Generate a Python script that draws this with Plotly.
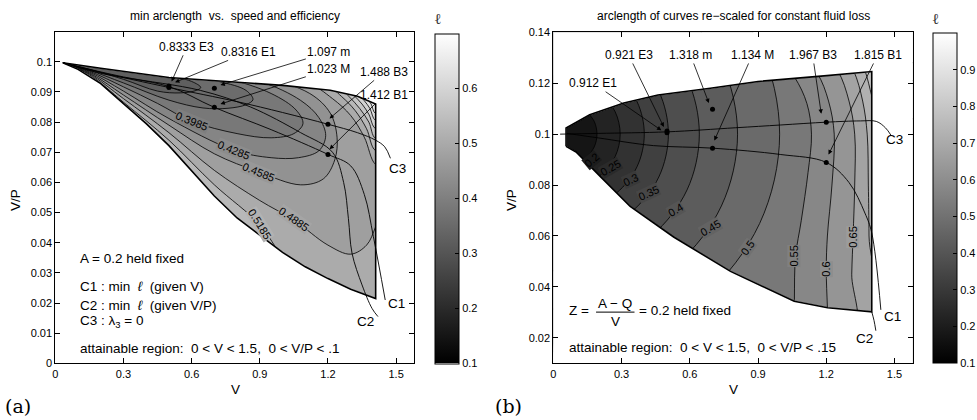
import plotly.graph_objects as go

FONT = "Liberation Sans"

# ======================= panel (a) data =======================
A_UPPER = [(0.033, 0.0997), (0.2, 0.0979), (0.5, 0.0948), (0.77, 0.0934), (1.0, 0.0922),
           (1.21, 0.0906), (1.33, 0.0886), (1.41, 0.0860)]
A_LOWER = [(0.033, 0.0997), (0.1, 0.0975), (0.2, 0.0928), (0.3, 0.0862), (0.4, 0.0795),
           (0.5, 0.0722), (0.6, 0.0640), (0.7, 0.0555), (0.8, 0.0482), (0.9, 0.0425),
           (1.0, 0.0368), (1.1, 0.0320), (1.2, 0.0281), (1.3, 0.0246), (1.41, 0.0215)]

A_LEVELS = [0.3385, 0.3685, 0.3985, 0.4285, 0.4585, 0.4885, 0.5185, 0.5485, 0.5785, 0.6085, 0.6385]
A_T3385 = [(0.033, 0.0997), (0.15, 0.0975), (0.3, 0.0942), (0.45, 0.0903), (0.55, 0.0897),
           (0.62, 0.0905), (0.64, 0.0915), (0.6, 0.0935), (0.45, 0.0962), (0.25, 0.0990)]
A_T3685 = [(0.033, 0.0997), (0.15, 0.0972), (0.3, 0.0930), (0.5, 0.0873), (0.65, 0.0847),
           (0.76, 0.0846), (0.84, 0.0858), (0.87, 0.0875), (0.84, 0.0905), (0.72, 0.0935),
           (0.5, 0.0965), (0.25, 0.0992)]
A_T3985 = [(0.033, 0.0997), (0.15, 0.0969), (0.3, 0.0917), (0.45, 0.0862), (0.6, 0.0803),
           (0.8, 0.0762), (0.95, 0.0748), (1.05, 0.0762), (1.09, 0.0795), (1.06, 0.0840),
           (0.95, 0.0895), (0.75, 0.0945), (0.45, 0.0975), (0.2, 0.0995)]
A_T4285 = [(0.033, 0.0997), (0.15, 0.0966), (0.3, 0.0903), (0.5, 0.0812), (0.785, 0.0707),
           (0.95, 0.0682), (1.07, 0.0682), (1.16, 0.0705), (1.19, 0.0755), (1.16, 0.0815),
           (1.08, 0.0872), (0.9, 0.0935), (0.6, 0.0975), (0.25, 0.0998)]
A_T4585 = [(0.033, 0.0997), (0.15, 0.0963), (0.3, 0.0890), (0.5, 0.0790), (0.7, 0.0695),
           (0.895, 0.0635), (1.08, 0.0592), (1.18, 0.0612), (1.23, 0.0675), (1.24, 0.0750),
           (1.21, 0.0830), (1.12, 0.0895), (0.9, 0.0950), (0.55, 0.0985), (0.25, 0.1000)]
A_T4885 = [(0.033, 0.0997), (0.15, 0.0960), (0.3, 0.0878), (0.5, 0.0765), (0.7, 0.0640),
           (0.9, 0.0540), (1.05, 0.0475), (1.2, 0.0392), (1.30, 0.0362), (1.37, 0.0392),
           (1.41, 0.0453), (1.46, 0.056), (1.46, 0.066), (1.41, 0.0660), (1.36, 0.0750),
           (1.30, 0.0822), (1.22, 0.0878), (1.10, 0.0935), (0.8, 0.0975), (0.4, 0.1002)]
A_T5185 = [(0.033, 0.0997), (0.15, 0.0957), (0.3, 0.0866), (0.5, 0.0740), (0.7, 0.0592),
           (0.9, 0.0460), (0.97, 0.0385), (1.05, 0.030), (1.3, 0.012), (1.5, 0.012),
           (1.5, 0.0705), (1.41, 0.0705), (1.37, 0.0778), (1.32, 0.0838), (1.26, 0.0885),
           (1.18, 0.0930), (0.8, 0.0985), (0.4, 0.1005)]
A_T5485 = [(0.033, 0.0997), (0.15, 0.094), (0.3, 0.084), (0.6, 0.060), (1.0, 0.030),
           (1.3, 0.012), (1.5, 0.012), (1.5, 0.0745), (1.41, 0.0745), (1.38, 0.0800),
           (1.34, 0.0845), (1.29, 0.0887), (1.22, 0.0935), (0.9, 0.0985), (0.4, 0.1008)]
A_T5785 = [(0.033, 0.0997), (0.15, 0.094), (0.3, 0.084), (0.6, 0.060), (1.0, 0.030),
           (1.3, 0.012), (1.5, 0.012), (1.5, 0.0778), (1.41, 0.0778), (1.38, 0.0826),
           (1.35, 0.0860), (1.31, 0.0892), (1.26, 0.0930), (0.9, 0.0988), (0.4, 0.1010)]
A_T6085 = [(0.033, 0.0997), (0.15, 0.094), (0.3, 0.084), (0.6, 0.060), (1.0, 0.030),
           (1.3, 0.012), (1.5, 0.012), (1.5, 0.0805), (1.41, 0.0805), (1.385, 0.0845),
           (1.36, 0.0871), (1.33, 0.0897), (1.29, 0.0930), (0.9, 0.0990), (0.4, 0.1012)]
A_T6385 = [(0.033, 0.0997), (0.15, 0.094), (0.3, 0.084), (0.6, 0.060), (1.0, 0.030),
           (1.3, 0.012), (1.5, 0.012), (1.5, 0.0828), (1.41, 0.0828), (1.39, 0.0860),
           (1.37, 0.0881), (1.345, 0.0903), (1.31, 0.0932), (0.9, 0.0992), (0.4, 0.1014)]
A_TONGUES = [A_T3385, A_T3685, A_T3985, A_T4285, A_T4585, A_T4885, A_T5185,
             A_T5485, A_T5785, A_T6085, A_T6385]

A_C1 = [(0.033, 0.0997), (0.2, 0.0962), (0.5, 0.0918), (0.7, 0.0849), (0.95, 0.0775),
        (1.2, 0.0693), (1.3, 0.0655), (1.36, 0.056), (1.40, 0.042), (1.452, 0.021)]
A_C2 = [(0.033, 0.0997), (0.3, 0.0950), (0.64, 0.0905), (0.86, 0.0850), (1.08, 0.0765),
        (1.22, 0.0700), (1.269, 0.0600), (1.29, 0.048), (1.306, 0.0365), (1.35, 0.026),
        (1.394, 0.0182), (1.42, 0.0155)]
A_C3 = [(0.033, 0.0997), (0.2, 0.0965), (0.5, 0.0915), (0.8, 0.0868), (1.0, 0.0832),
        (1.2, 0.0793), (1.33, 0.0765), (1.41, 0.0740), (1.45, 0.0718), (1.475, 0.068)]

A_PT_V = [0.5, 0.5, 0.7, 0.7, 1.2, 1.2]
A_PT_P = [0.0915, 0.0920, 0.0912, 0.0849, 0.0793, 0.0693]
A_CALLOUT_TEXT = ["0.8333 E3", "0.8316 E1", "1.097 m", "1.023 M", "1.488 B3", "1.412 B1"]
A_CALLOUT_TV = [0.579, 0.851, 1.204, 1.204, 1.447, 1.447]
A_CALLOUT_TP = [0.1050, 0.1033, 0.1033, 0.0975, 0.0967, 0.0890]
A_CALLOUT_HV = [0.512, 0.527, 0.727, 0.727, 1.207, 1.207]
A_CALLOUT_HP = [0.0935, 0.0932, 0.0923, 0.0860, 0.0812, 0.0710]

A_CLABEL_TEXT = ["0.3985", "0.4285", "0.4585", "0.4885", "0.5185"]
A_CLABEL_LEV = [0.3985, 0.4285, 0.4585, 0.4885, 0.5185]
A_CLABEL_V = [0.60, 0.785, 0.895, 1.05, 0.90]
A_CLABEL_P = [0.0803, 0.0708, 0.0636, 0.0478, 0.0462]
A_CLABEL_ANG = [22, 22, 22, 35, 58]

# ======================= panel (b) data =======================
B_UPPER = [(0.056, 0.1024), (0.16, 0.1076), (0.31, 0.1122), (0.46, 0.1154), (0.69, 0.1180),
           (0.90, 0.1207), (1.19, 0.1229), (1.40, 0.1246)]
B_LOWER = [(0.056, 0.0952), (0.10, 0.0930), (0.206, 0.0834), (0.338, 0.0716), (0.529, 0.0596),
           (0.779, 0.0461), (1.059, 0.0344), (1.206, 0.0318), (1.40, 0.0302)]

B_LEVELS = [0.2, 0.25, 0.3, 0.35, 0.4, 0.45, 0.5, 0.55, 0.6, 0.65, 0.7, 0.75, 0.8, 0.85]
B_A20 = [(0.145, 0.109), (0.180, 0.105), (0.192, 0.1), (0.180, 0.095), (0.145, 0.091), (0.094, 0.0886)]
B_A25 = [(0.210, 0.1159), (0.272, 0.1088), (0.294, 0.1), (0.272, 0.0912), (0.210, 0.0841), (0.121, 0.0799)]
B_A30 = [(0.278, 0.1231), (0.368, 0.1128), (0.400, 0.1), (0.368, 0.0872), (0.278, 0.0769), (0.148, 0.0708)]
B_A35 = [(0.346, 0.1303), (0.464, 0.1168), (0.506, 0.1), (0.464, 0.0832), (0.346, 0.0697), (0.175, 0.0617)]
B_A40 = [(0.434, 0.1397), (0.588, 0.1219), (0.642, 0.1), (0.588, 0.0781), (0.434, 0.0603), (0.211, 0.050)]
B_A45 = [(0.542, 0.1511), (0.739, 0.1282), (0.810, 0.1), (0.739, 0.0718), (0.542, 0.0489), (0.254, 0.0356)]
B_A50 = [(0.661, 0.1637), (0.907, 0.1351), (0.995, 0.1), (0.907, 0.0649), (0.661, 0.0363), (0.302, 0.0197)]
B_A55 = [(0.95, 0.135), (1.06, 0.1225), (1.115, 0.112), (1.135, 0.1), (1.12, 0.085), (1.09, 0.066),
         (1.065, 0.052), (1.06, 0.035), (1.06, 0.02)]
B_A60 = [(1.05, 0.135), (1.16, 0.124), (1.21, 0.113), (1.235, 0.1), (1.225, 0.08), (1.205, 0.06),
         (1.20, 0.047), (1.205, 0.032), (1.21, 0.02)]
B_A65 = [(1.15, 0.135), (1.25, 0.125), (1.30, 0.113), (1.325, 0.1), (1.325, 0.08), (1.318, 0.06),
         (1.312, 0.045), (1.31, 0.02)]
B_A70 = [(1.25, 0.135), (1.32, 0.125), (1.36, 0.113), (1.38, 0.1), (1.385, 0.08), (1.388, 0.06), (1.39, 0.02)]
B_A75 = [(1.32, 0.135), (1.37, 0.125), (1.40, 0.115), (1.43, 0.105)]
B_A80 = [(1.36, 0.135), (1.39, 0.128), (1.43, 0.120)]
B_A85 = [(1.39, 0.135), (1.43, 0.127)]
B_ARCS = [B_A20, B_A25, B_A30, B_A35, B_A40, B_A45, B_A50, B_A55, B_A60, B_A65, B_A70, B_A75, B_A80, B_A85]

B_C1 = [(0.06, 0.1003), (0.2, 0.0985), (0.44, 0.0955), (0.7, 0.0945), (1.0, 0.0920), (1.2, 0.0889),
        (1.3, 0.0810), (1.37, 0.0690), (1.40, 0.0612), (1.44, 0.031)]
# C2 runs along the lower boundary; only its leader beyond the corner is drawn separately
B_C2 = [(1.40, 0.0302), (1.41, 0.0268), (1.418, 0.0228)]
B_C3 = [(0.03, 0.1), (0.2, 0.1003), (0.5, 0.1009), (0.8, 0.1025), (1.0, 0.1036), (1.2, 0.1047),
        (1.35, 0.1052), (1.42, 0.1050), (1.46, 0.1025), (1.485, 0.0995)]

B_PT_V = [0.5, 0.5, 0.7, 0.7, 1.2, 1.2]
B_PT_P = [0.1005, 0.1012, 0.1098, 0.0945, 0.1047, 0.0889]
B_CALLOUT_TEXT = ["0.921 E3", "0.912 E1", "1.318 m", "1.134 M", "1.967 B3", "1.815 B1"]
B_CALLOUT_TV = [0.331, 0.176, 0.603, 0.875, 1.14, 1.426]
B_CALLOUT_TP = [0.1311, 0.1200, 0.1311, 0.1311, 0.1311, 0.1311]
B_CALLOUT_HV = [0.486, 0.475, 0.684, 0.708, 1.178, 1.21]
B_CALLOUT_HP = [0.1028, 0.1015, 0.1122, 0.0975, 0.1080, 0.0920]

B_CLABEL_TEXT = ["0.2", "0.25", "0.3", "0.35", "0.4", "0.45", "0.5", "0.55", "0.6", "0.65"]
B_CLABEL_LEV = [0.2, 0.25, 0.3, 0.35, 0.4, 0.45, 0.5, 0.55, 0.6, 0.65]
B_CLABEL_V = [0.169, 0.25, 0.338, 0.419, 0.537, 0.691, 0.853, 1.059, 1.199, 1.316]
B_CLABEL_P = [0.0899, 0.0867, 0.0821, 0.0769, 0.0703, 0.0631, 0.0553, 0.052, 0.0468, 0.0596]
B_CLABEL_ANG = [-40, -30, -25, -25, -30, -30, -55, -90, -90, -90]

A_CMIN, A_CMAX = 0.1, 0.7
B_CMIN, B_CMAX = 0.1, 1.0
A_CB_TICKS = [0.1, 0.2, 0.3, 0.4, 0.5, 0.6]
B_CB_TICKS = [0.1, 0.2, 0.3, 0.4, 0.5, 0.6, 0.7, 0.8, 0.9]


# ======================= helpers =======================
def gray(val, lo, hi):
    g = max(0.0, min(1.0, (val - lo) / (hi - lo)))
    v = int(round(255 * g))
    return f"rgb({v},{v},{v})"


def xs(pts):
    return [p[0] for p in pts]


def ys(pts):
    return [p[1] for p in pts]


GRAYSCALE = [[0, "black"], [1, "white"]]
fig = go.Figure()


def colorbar(x_px, top_px, bottom_px, ticks):
    title_h = 21
    box_top = top_px - title_h
    return dict(x=x_px / 977, xanchor="left", y=1 - (box_top + bottom_px) / 2 / 420, yanchor="middle",
                len=bottom_px - box_top, lenmode="pixels", thickness=24, thicknessmode="pixels",
                xpad=0, ypad=0, outlinewidth=1, outlinecolor="black",
                ticks="inside", ticklen=4, tickcolor="black",
                tickvals=ticks, ticktext=[f"{t:g}" for t in ticks],
                tickfont=dict(family=FONT, size=11, color="black"),
                title=dict(text="ℓ", side="top", font=dict(family="DejaVu Serif", size=15, color="#333")))


# ---------------- panel (a) ----------------
a_region = A_LOWER + [A_UPPER[-1]] + A_UPPER[::-1][1:]
fig.add_trace(go.Scatter(x=[-0.1, 1.7, 1.7, -0.1], y=[-0.01, -0.01, 0.12, 0.12], fill="toself",
                         fillcolor=gray(A_LEVELS[-1] + 0.015, A_CMIN, A_CMAX), mode="none",
                         xaxis="x", yaxis="y", hoverinfo="skip", showlegend=False))
step_a = 0.03
for lev, pts in sorted(zip(A_LEVELS, A_TONGUES), key=lambda t: -t[0]):
    fig.add_trace(go.Scatter(x=xs(pts), y=ys(pts), fill="toself",
                             fillcolor=gray(lev - step_a / 2, A_CMIN, A_CMAX), mode="lines",
                             line=dict(color="black", width=0.8, shape="spline", smoothing=1),
                             xaxis="x", yaxis="y", hoverinfo="skip", showlegend=False))
mask_a = [(0, 0), (0, 0.11), (1.58, 0.11), (1.58, 0), (0, 0)] + a_region + [a_region[0], (0, 0)]
fig.add_trace(go.Scatter(x=xs(mask_a), y=ys(mask_a), fill="toself", fillcolor="white", mode="lines",
                         line=dict(color="white", width=1), xaxis="x", yaxis="y",
                         hoverinfo="skip", showlegend=False))
fig.add_trace(go.Scatter(x=xs(a_region + [a_region[0]]), y=ys(a_region + [a_region[0]]), mode="lines",
                         line=dict(color="black", width=1.6), xaxis="x", yaxis="y",
                         hoverinfo="skip", showlegend=False))
for c in (A_C1, A_C2, A_C3):
    fig.add_trace(go.Scatter(x=xs(c), y=ys(c), mode="lines",
                             line=dict(color="black", width=0.9, shape="spline", smoothing=1),
                             xaxis="x", yaxis="y", hoverinfo="skip", showlegend=False))
fig.add_trace(go.Scatter(x=A_PT_V, y=A_PT_P, mode="markers", marker=dict(color="black", size=5),
                         xaxis="x", yaxis="y", hoverinfo="skip", showlegend=False))
fig.add_trace(go.Heatmap(z=[[A_CMIN, A_CMAX]], x=[5, 6], y=[5], xaxis="x", yaxis="y",
                         colorscale=GRAYSCALE, zmin=A_CMIN, zmax=A_CMAX, hoverinfo="skip",
                         colorbar=colorbar(435, 31.7, 363.3, A_CB_TICKS)))

# ---------------- panel (b) ----------------
b_region = B_LOWER + B_UPPER[::-1]
fig.add_trace(go.Scatter(x=[-0.1, 1.7, 1.7, -0.1], y=[0.0, 0.0, 0.15, 0.15], fill="toself",
                         fillcolor=gray(B_LEVELS[-1] + 0.025, B_CMIN, B_CMAX), mode="none",
                         xaxis="x2", yaxis="y2", hoverinfo="skip", showlegend=False))
for lev, pts in sorted(zip(B_LEVELS, B_ARCS), key=lambda t: -t[0]):
    first, last = pts[0], pts[-1]
    if last[0] > 1.405:
        poly = pts + [(1.6, last[1]), (1.6, 0.0), (-0.2, 0.0), (-0.2, first[1])]
    else:
        poly = pts + [(-0.2, last[1]), (-0.2, first[1])]
    fig.add_trace(go.Scatter(x=xs(poly), y=ys(poly), fill="toself",
                             fillcolor=gray(lev - 0.025, B_CMIN, B_CMAX), mode="lines",
                             line=dict(color="black", width=0.8, shape="spline", smoothing=1),
                             xaxis="x2", yaxis="y2", hoverinfo="skip", showlegend=False))
mask_b = [(0, 0.01), (0, 0.14), (1.58, 0.14), (1.58, 0.01), (0, 0.01)] + b_region + [b_region[0], (0, 0.01)]
fig.add_trace(go.Scatter(x=xs(mask_b), y=ys(mask_b), fill="toself", fillcolor="white", mode="lines",
                         line=dict(color="white", width=1), xaxis="x2", yaxis="y2",
                         hoverinfo="skip", showlegend=False))
fig.add_trace(go.Scatter(x=xs(b_region + [b_region[0]]), y=ys(b_region + [b_region[0]]), mode="lines",
                         line=dict(color="black", width=1.6), xaxis="x2", yaxis="y2",
                         hoverinfo="skip", showlegend=False))
for c in (B_C1, B_C2, B_C3):
    fig.add_trace(go.Scatter(x=xs(c), y=ys(c), mode="lines",
                             line=dict(color="black", width=0.9, shape="spline", smoothing=1),
                             xaxis="x2", yaxis="y2", hoverinfo="skip", showlegend=False))
fig.add_trace(go.Scatter(x=B_PT_V, y=B_PT_P, mode="markers", marker=dict(color="black", size=5),
                         xaxis="x2", yaxis="y2", hoverinfo="skip", showlegend=False))
fig.add_trace(go.Heatmap(z=[[B_CMIN, B_CMAX]], x=[5, 6], y=[5], xaxis="x2", yaxis="y2",
                         colorscale=GRAYSCALE, zmin=B_CMIN, zmax=B_CMAX, hoverinfo="skip",
                         colorbar=colorbar(932.7, 31, 363, B_CB_TICKS)))

# ---------------- annotations ----------------
ann = []
txt_font = dict(family=FONT, size=12, color="black")
big_font = dict(family=FONT, size=13.5, color="black")


def callouts(texts, tv, tp, hv, hp, xr, yr):
    for t, a, b, c, d in zip(texts, tv, tp, hv, hp):
        ann.append(dict(text=t, x=c, y=d, ax=a, ay=b, xref=xr, yref=yr, axref=xr, ayref=yr,
                        showarrow=True, arrowhead=2, arrowsize=1.1, arrowwidth=0.8, arrowcolor="black",
                        font=txt_font, standoff=0))


callouts(A_CALLOUT_TEXT, A_CALLOUT_TV, A_CALLOUT_TP, A_CALLOUT_HV, A_CALLOUT_HP, "x", "y")
callouts(B_CALLOUT_TEXT, B_CALLOUT_TV, B_CALLOUT_TP, B_CALLOUT_HV, B_CALLOUT_HP, "x2", "y2")

for t, lev, v, p, ang in zip(A_CLABEL_TEXT, A_CLABEL_LEV, A_CLABEL_V, A_CLABEL_P, A_CLABEL_ANG):
    ann.append(dict(text=t, x=v, y=p, xref="x", yref="y", showarrow=False, textangle=ang,
                    xanchor="center", yanchor="middle", bgcolor=gray(lev, A_CMIN, A_CMAX),
                    font=dict(family=FONT, size=11, color="black"), borderpad=0))
for t, lev, v, p, ang in zip(B_CLABEL_TEXT, B_CLABEL_LEV, B_CLABEL_V, B_CLABEL_P, B_CLABEL_ANG):
    ann.append(dict(text=t, x=v, y=p, xref="x2", yref="y2", showarrow=False, textangle=ang,
                    xanchor="center", yanchor="middle", bgcolor=gray(lev, B_CMIN, B_CMAX),
                    font=dict(family=FONT, size=11, color="black"), borderpad=0))

for t, v, p in [("C3", 1.506, 0.0646), ("C1", 1.50, 0.0199), ("C2", 1.366, 0.0138)]:
    ann.append(dict(text=t, x=v, y=p, xref="x", yref="y", showarrow=False, font=big_font))
for t, v, p in [("C3", 1.50, 0.0978), ("C1", 1.49, 0.0285), ("C2", 1.368, 0.0196)]:
    ann.append(dict(text=t, x=v, y=p, xref="x2", yref="y2", showarrow=False, font=big_font))

for t, p in [("A = 0.2 held fixed", 0.0348),
             ("C1 : min  <i>ℓ</i>  (given V)", 0.0254),
             ("C2 : min  <i>ℓ</i>  (given V/P)", 0.0193),
             ("C3 : λ<sub>3</sub> = 0", 0.0138),
             ("attainable region:  0 &lt; V &lt; 1.5,  0 &lt; V/P &lt; .1", 0.0050)]:
    ann.append(dict(text=t, x=0.101, y=p, xref="x", yref="y", xanchor="left", showarrow=False,
                    font=big_font))

ann.append(dict(text="Z =", x=0.059, y=0.0307, xref="x2", yref="y2", xanchor="left", showarrow=False,
                font=big_font))
ann.append(dict(text="A − Q", x=0.272, y=0.0336, xref="x2", yref="y2", showarrow=False, font=big_font))
ann.append(dict(text="V", x=0.272, y=0.0265, xref="x2", yref="y2", showarrow=False, font=big_font))
ann.append(dict(text="= 0.2 held fixed", x=0.368, y=0.0307, xref="x2", yref="y2", xanchor="left",
                showarrow=False, font=big_font))
ann.append(dict(text="attainable region:  0 &lt; V &lt; 1.5,  0 &lt; V/P &lt; .15", x=0.059, y=0.0161,
                xref="x2", yref="y2", xanchor="left", showarrow=False, font=big_font))


def paper_text(text, x_px, y_px, font, angle=0):
    ann.append(dict(text=text, x=x_px / 977, y=1 - y_px / 420, xref="paper", yref="paper",
                    xanchor="center", yanchor="middle", showarrow=False, textangle=angle, font=font))


serif = dict(family="DejaVu Serif", size=19, color="black")
paper_text("min arclength  vs.  speed and efficiency", 235, 16, txt_font)
paper_text("arclength of curves re−scaled for constant fluid loss", 733, 16, txt_font)
paper_text("V", 235, 389, big_font)
paper_text("V", 733, 389, big_font)
paper_text("V/P", 15, 200, big_font, -90)
paper_text("V/P", 511, 200, big_font, -90)
paper_text("(a)", 18, 406, serif)
paper_text("(b)", 508, 406, serif)

shapes = [dict(type="line", xref="x2", yref="y2", x0=0.188, x1=0.357, y0=0.0301, y1=0.0301,
               line=dict(color="black", width=1))]

axis_common = dict(showline=True, linecolor="black", linewidth=1, mirror="ticks", ticks="inside",
                   ticklen=5, tickcolor="black", showgrid=False, zeroline=False, automargin=False,
                   tickfont=dict(family=FONT, size=11, color="black"))
XT = [0, 0.3, 0.6, 0.9, 1.2, 1.5]
YA = [0, 0.01, 0.02, 0.03, 0.04, 0.05, 0.06, 0.07, 0.08, 0.09, 0.1]
YB = [0.02, 0.04, 0.06, 0.08, 0.1, 0.12, 0.14]

fig.update_layout(
    width=977, height=420, margin=dict(l=0, r=0, t=0, b=0, pad=0, autoexpand=False),
    paper_bgcolor="white", plot_bgcolor="white",
    xaxis=dict(domain=[55.3 / 977, 414.3 / 977], range=[0, 1.58], tickvals=XT,
               ticktext=[f"{t:g}" for t in XT], anchor="y", **axis_common),
    yaxis=dict(domain=[1 - 363.3 / 420, 1 - 31.7 / 420], range=[0, 0.11], tickvals=YA,
               ticktext=[f"{t:g}" for t in YA], anchor="x", **axis_common),
    xaxis2=dict(domain=[553.3 / 977, 912.7 / 977], range=[0, 1.58], tickvals=XT,
                ticktext=[f"{t:g}" for t in XT], anchor="y2", **axis_common),
    yaxis2=dict(domain=[1 - 363.3 / 420, 1 - 32.3 / 420], range=[0.01, 0.14], tickvals=YB,
                ticktext=[f"{t:g}" for t in YB], anchor="x2", **axis_common),
    annotations=ann, shapes=shapes, showlegend=False,
    font=dict(family=FONT, color="black"),
)

fig.write_html("out.html", config={"displayModeBar": False, "staticPlot": True},
               post_script="document.body.style.margin='0';document.body.style.padding='0';"
                           "document.body.style.overflow='hidden';")
